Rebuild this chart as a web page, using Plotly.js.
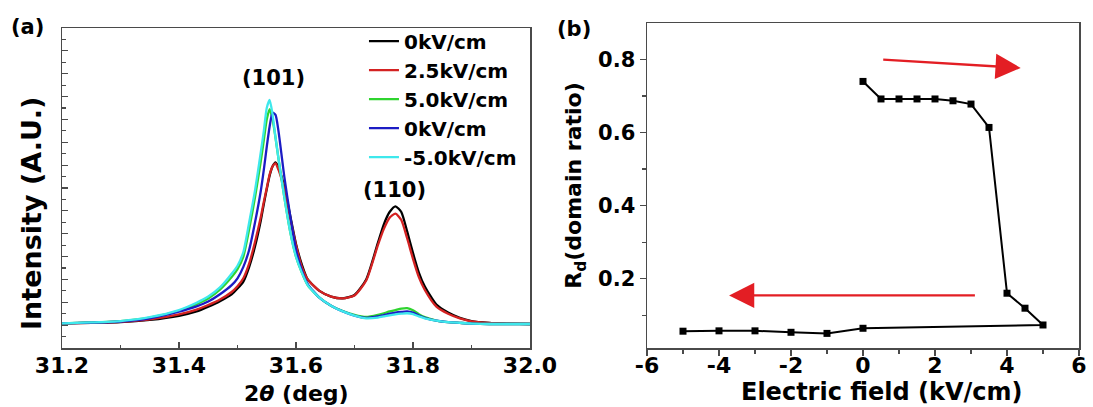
<!DOCTYPE html>
<html>
<head>
<meta charset="utf-8">
<script src="https://cdn.plot.ly/plotly-3.0.1.min.js"></script>
<style>
  html, body { margin: 0; padding: 0; background: #ffffff; }
  #chart { width: 1093px; height: 407px; }
</style>
</head>
<body>
<div id="chart"></div>
<script>
// ---------- Panel (a): XRD scans ----------
const twoTheta = [31.20, 31.25, 31.30, 31.35, 31.40, 31.43, 31.45, 31.47, 31.49, 31.50,
  31.51, 31.52, 31.53, 31.54, 31.545, 31.55, 31.555, 31.56, 31.565, 31.57,
  31.58, 31.59, 31.60, 31.61, 31.62, 31.64, 31.66, 31.68, 31.70, 31.72,
  31.74, 31.75, 31.76, 31.77, 31.78, 31.79, 31.80, 31.81, 31.82, 31.84,
  31.86, 31.88, 31.90, 31.93, 31.96, 32.00];

const int0kV_a = [1.08, 1.10, 1.13, 1.23, 1.41, 1.60, 1.81, 2.05, 2.35, 2.60,
  2.90, 3.55, 4.45, 5.60, 6.30, 6.95, 7.55, 7.95, 8.12, 7.90,
  7.05, 5.80, 4.55, 3.65, 3.00, 2.50, 2.25, 2.17, 2.32, 3.00,
  4.60, 5.40, 5.95, 6.20, 5.95, 5.10, 4.15, 3.30, 2.70, 1.90,
  1.55, 1.32, 1.18, 1.10, 1.07, 1.05];

const int2p5kV = [1.08, 1.10, 1.14, 1.25, 1.47, 1.68, 1.88, 2.12, 2.45, 2.70,
  3.05, 3.70, 4.65, 5.75, 6.40, 7.00, 7.60, 7.95, 8.08, 7.80,
  6.95, 5.70, 4.50, 3.55, 3.00, 2.50, 2.25, 2.17, 2.30, 2.95,
  4.50, 5.20, 5.70, 5.88, 5.60, 4.80, 3.90, 3.10, 2.55, 1.81,
  1.50, 1.30, 1.17, 1.10, 1.07, 1.05];

const int5kV = [1.08, 1.12, 1.18, 1.33, 1.63, 1.92, 2.17, 2.55, 3.10, 3.45,
  4.00, 5.20, 6.60, 8.20, 9.10, 10.00, 10.45, 10.00, 9.20, 8.30,
  6.60, 5.10, 4.00, 3.30, 2.75, 2.20, 1.85, 1.62, 1.45, 1.36,
  1.45, 1.52, 1.60, 1.66, 1.72, 1.74, 1.65, 1.48, 1.35, 1.20,
  1.13, 1.10, 1.07, 1.05, 1.05, 1.05];

const int0kV_b = [1.08, 1.11, 1.16, 1.30, 1.59, 1.82, 2.03, 2.35, 2.75, 3.05,
  3.55, 4.30, 5.50, 6.90, 7.80, 8.80, 9.70, 10.30, 10.20, 9.50,
  7.50, 5.80, 4.30, 3.40, 2.80, 2.20, 1.85, 1.60, 1.42, 1.32,
  1.38, 1.44, 1.50, 1.55, 1.58, 1.60, 1.55, 1.42, 1.32, 1.20,
  1.13, 1.10, 1.07, 1.05, 1.05, 1.05];

const intMinus5kV = [1.08, 1.12, 1.18, 1.35, 1.66, 1.98, 2.25, 2.65, 3.25, 3.60,
  4.20, 5.50, 6.90, 8.60, 9.50, 10.50, 10.85, 10.20, 9.20, 8.30,
  6.60, 5.10, 4.00, 3.30, 2.75, 2.20, 1.85, 1.60, 1.42, 1.30,
  1.33, 1.38, 1.43, 1.47, 1.50, 1.52, 1.48, 1.38, 1.30, 1.20,
  1.13, 1.10, 1.07, 1.05, 1.05, 1.05];

const seriesNames = ['0kV/cm', '2.5kV/cm', '5.0kV/cm', '0kV/cm', '-5.0kV/cm'];
const seriesColors = ['#000000', '#d42222', '#2fd42f', '#1c1cc4', '#3ee8ec'];
const peakLabels = ['(101)', '(110)'];
const peakLabelX = [31.562, 31.768];
const peakLabelY = [11.8, 6.9];
const xTicksA = [31.2, 31.4, 31.6, 31.8, 32.0];
const xTickTextA = ['31.2', '31.4', '31.6', '31.8', '32.0'];

// ---------- Panel (b): domain ratio ----------
const fieldKV = [0, 0.5, 1, 1.5, 2, 2.5, 3, 3.5, 4, 4.5, 5, 0, -1, -2, -3, -4, -5];
const domainRatio = [0.740, 0.692, 0.692, 0.692, 0.692, 0.687, 0.678, 0.614, 0.160, 0.119, 0.073,
  0.064, 0.050, 0.053, 0.057, 0.057, 0.056];
const xTicksB = [-6, -4, -2, 0, 2, 4, 6];
const xTickTextB = ['-6', '-4', '-2', '0', '2', '4', '6'];
const yTicksB = [0.2, 0.4, 0.6, 0.8];
const yTickTextB = ['0.2', '0.4', '0.6', '0.8'];

// arrows: [tailX, tailY, headX, headY]
const arrowUp = [0.52, 0.800, 4.38, 0.777];
const arrowDown = [3.15, 0.154, -3.72, 0.154];

const FONT = 'DejaVu Sans, Verdana, sans-serif';
const bold = s => '<b>' + s + '</b>';

const intensities = [int0kV_a, int2p5kV, int5kV, int0kV_b, intMinus5kV];
const traces = intensities.map((ys, i) => ({
  type: 'scatter', mode: 'lines',
  x: twoTheta, y: ys,
  name: bold(seriesNames[i]),
  line: { color: seriesColors[i], width: 2.3, shape: 'spline', smoothing: 0.6 },
  xaxis: 'x', yaxis: 'y'
}));

traces.push({
  type: 'scatter', mode: 'lines+markers',
  x: fieldKV, y: domainRatio,
  line: { color: '#000000', width: 2 },
  marker: { symbol: 'square', size: 7, color: '#000000' },
  showlegend: false,
  xaxis: 'x2', yaxis: 'y2'
});

const frameColor = '#4a4a4a';

const layout = {
  width: 1093, height: 407,
  margin: { l: 0, r: 0, t: 0, b: 0 },
  paper_bgcolor: '#ffffff', plot_bgcolor: '#ffffff',
  font: { family: FONT, color: '#000000', weight: 'bold' },
  showlegend: true,
  legend: {
    x: 0.333, y: 0.947, xanchor: 'left', yanchor: 'top',
    bgcolor: 'rgba(0,0,0,0)', borderwidth: 0,
    font: { family: FONT, size: 20, color: '#000000', weight: 'bold' },
    tracegroupgap: 0
  },
  xaxis: {
    domain: [62 / 1093, 530 / 1093],
    range: [31.2, 32.0],
    tickvals: xTicksA,
    ticktext: xTickTextA.map(bold),
    ticks: 'inside', ticklen: 6, tickwidth: 1.3, tickcolor: frameColor,
    ticklabelstandoff: -3,
    minor: { dtick: 0.1, tick0: 31.2, ticks: 'inside', ticklen: 3, tickwidth: 1.2, tickcolor: frameColor },
    showline: true, linecolor: frameColor, linewidth: 1.5, mirror: true,
    showgrid: false, zeroline: false,
    tickfont: { family: FONT, size: 22, weight: 'bold' },
    anchor: 'y'
  },
  yaxis: {
    domain: [59 / 407, 379 / 407],
    range: [0, 14],
    dtick: 1, tick0: 0,
    ticks: 'inside', ticklen: 6, tickwidth: 1.2, tickcolor: frameColor,
    minor: { dtick: 0.5, ticks: 'inside', ticklen: 4, tickwidth: 1.2, tickcolor: frameColor },
    showticklabels: false,
    showline: true, linecolor: frameColor, linewidth: 1.5, mirror: true,
    showgrid: false, zeroline: false,
    anchor: 'x'
  },
  xaxis2: {
    domain: [647 / 1093, 1079 / 1093],
    range: [-6, 6],
    tickvals: xTicksB,
    ticktext: xTickTextB.map(bold),
    ticks: 'outside', ticklen: 6, tickwidth: 1.3, tickcolor: frameColor,
    ticklabelstandoff: -9,
    minor: { dtick: 1, tick0: 0, ticks: 'outside', ticklen: 4, tickwidth: 1.2, tickcolor: frameColor },
    showline: true, linecolor: frameColor, linewidth: 1.5, mirror: true,
    showgrid: false, zeroline: false,
    tickfont: { family: FONT, size: 22, weight: 'bold' },
    anchor: 'y2'
  },
  yaxis2: {
    domain: [59 / 407, 384 / 407],
    range: [0.01, 0.9],
    tickvals: yTicksB,
    ticktext: yTickTextB.map(bold),
    ticks: 'outside', ticklen: 6, tickwidth: 1.3, tickcolor: frameColor,
    minor: { tickvals: [0.1, 0.3, 0.5, 0.7], ticks: 'outside', ticklen: 4, tickwidth: 1.2, tickcolor: frameColor },
    showline: true, linecolor: frameColor, linewidth: 1.5, mirror: true,
    showgrid: false, zeroline: false,
    tickfont: { family: FONT, size: 21, weight: 'bold' },
    title: { text: bold('R<sub>d</sub>(domain ratio)'), font: { family: FONT, size: 22, weight: 'bold' }, standoff: 10 },
    anchor: 'x2'
  },
  annotations: [
    { xref: 'paper', yref: 'paper', x: 31 / 1093, y: (407 - 214) / 407, text: bold('Intensity (A.U.)'),
      textangle: -90, showarrow: false,
      font: { family: FONT, size: 27, weight: 'bold' }, xanchor: 'center', yanchor: 'middle' },
    { xref: 'paper', yref: 'paper', x: 296 / 1093, y: (407 - 393) / 407, text: bold('2<i>θ</i> (deg)'),
      showarrow: false,
      font: { family: FONT, size: 22, weight: 'bold' }, xanchor: 'center', yanchor: 'middle' },
    { xref: 'paper', yref: 'paper', x: 882 / 1093, y: (407 - 392) / 407, text: bold('Electric field (kV/cm)'),
      showarrow: false,
      font: { family: FONT, size: 24, weight: 'bold' }, xanchor: 'center', yanchor: 'middle' },
    { xref: 'paper', yref: 'paper', x: 27 / 1093, y: (407 - 27) / 407, text: bold('(a)'), showarrow: false,
      font: { family: FONT, size: 21, weight: 'bold' }, xanchor: 'center', yanchor: 'middle' },
    { xref: 'paper', yref: 'paper', x: 574 / 1093, y: (407 - 29) / 407, text: bold('(b)'), showarrow: false,
      font: { family: FONT, size: 21, weight: 'bold' }, xanchor: 'center', yanchor: 'middle' },
    { xref: 'x', yref: 'y', x: peakLabelX[0], y: peakLabelY[0], text: bold(peakLabels[0]), showarrow: false,
      font: { family: FONT, size: 21, weight: 'bold' }, xanchor: 'center', yanchor: 'middle' },
    { xref: 'x', yref: 'y', x: peakLabelX[1], y: peakLabelY[1], text: bold(peakLabels[1]), showarrow: false,
      font: { family: FONT, size: 21, weight: 'bold' }, xanchor: 'center', yanchor: 'middle' },
    { xref: 'x2', yref: 'y2', axref: 'x2', ayref: 'y2',
      x: arrowUp[2], y: arrowUp[3], ax: arrowUp[0], ay: arrowUp[1], text: '',
      showarrow: true, arrowhead: 2, arrowsize: 2.1, arrowwidth: 2.4, arrowcolor: '#e31e24' },
    { xref: 'x2', yref: 'y2', axref: 'x2', ayref: 'y2',
      x: arrowDown[2], y: arrowDown[3], ax: arrowDown[0], ay: arrowDown[1], text: '',
      showarrow: true, arrowhead: 2, arrowsize: 2.1, arrowwidth: 2.4, arrowcolor: '#e31e24' }
  ]
};

Plotly.newPlot('chart', traces, layout, { staticPlot: true, displayModeBar: false });
</script>
</body>
</html>
